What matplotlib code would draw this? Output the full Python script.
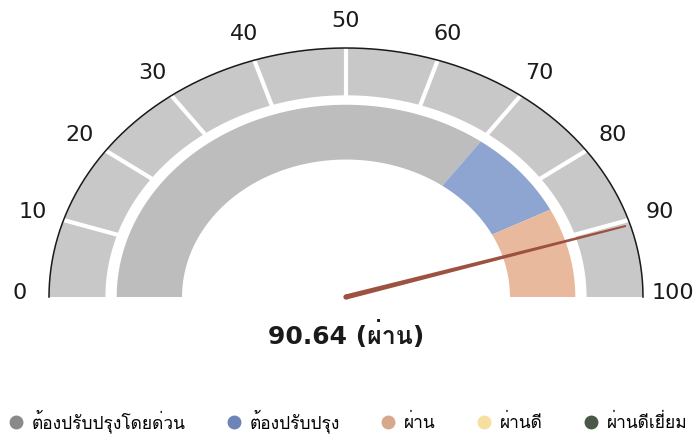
import numpy as np
import matplotlib
matplotlib.use("Agg")
import matplotlib.pyplot as plt
from matplotlib import font_manager
from matplotlib.ft2font import FT2Font

# data
value = 90.64
status = "ผ่าน"
tick_values = [0, 10, 20, 30, 40, 50, 60, 70, 80, 90, 100]
band_starts = [0, 70, 85]
band_ends = [70, 85, 100]
band_colors = ["#bdbdbd", "#8ea4d1", "#e9b99e"]
legend_labels = ["ต้องปรับปรุงโดยด่วน", "ต้องปรับปรุง", "ผ่าน", "ผ่านดี", "ผ่านดีเยี่ยม"]
legend_colors = ["#8a8a8a", "#6c84b8", "#d8a88c", "#f6df9f", "#4b5849"]


def thai_family():
    for f in font_manager.fontManager.ttflist:
        try:
            if 0x0E1C in FT2Font(f.fname).get_charmap():
                return f.name
        except Exception:
            pass
    return None


fam = thai_family()
thai = [fam, "DejaVu Sans"] if fam else ["DejaVu Sans"]
plt.rcParams["font.family"] = ["DejaVu Sans", fam] if fam else ["DejaVu Sans"]


def ang(v):
    return np.pi * (1 - np.asarray(v) / 100.0)


def ring(ax, v0, v1, r0, r1, color):
    t = np.linspace(ang(v0), ang(v1), 200)
    xs = np.concatenate([r1 * np.cos(t), r0 * np.cos(t[::-1])])
    ys = np.concatenate([r1 * np.sin(t), r0 * np.sin(t[::-1])])
    ax.fill(xs, ys, color=color, lw=0)


fig = plt.figure(figsize=(6.99, 4.41), dpi=100)
ax = fig.add_axes([0, 0, 1, 1])
# pixel scale: 297 px per unit horizontally, 249 px per unit vertically
sx, sy = 297.0, 249.0
ax.set_xlim(-346 / sx, (699 - 346) / sx)
ax.set_ylim(-144 / sy, 297 / sy)
ax.axis("off")

# outer band, split in tens
ring(ax, 0, 100, 0.81, 1.0, "#c8c8c8")
for v in tick_values[1:-1]:
    a = ang(v)
    ax.plot([0.80 * np.cos(a), 1.0 * np.cos(a)], [0.80 * np.sin(a), 1.0 * np.sin(a)],
            color="white", lw=3, solid_capstyle="butt")
t = np.linspace(0, np.pi, 300)
ax.plot(np.cos(t), np.sin(t), color="#1a1a1a", lw=1.1)

# inner band
for s, e, c in zip(band_starts, band_ends, band_colors):
    ring(ax, s, e, 0.552, 0.772, c)

# tick labels
for v in tick_values:
    a = ang(v)
    r = 1.11 if v not in (0, 100) else 1.10
    ax.text(r * np.cos(a), r * np.sin(a) + (0.018 if v in (0, 100) else 0), str(v),
            ha="center", va="center", fontsize=16, color="#1a1a1a")

# needle (tapered)
a = ang(value)
tip = 0.985
dxp, dyp = np.cos(a) * sx, np.sin(a) * sy
L = np.hypot(dxp, dyp)
nx, ny = -dyp / L, dxp / L
w0, w1 = 2.6, 1.0
px = [nx * w0, tip * dxp + nx * w1, tip * dxp - nx * w1, -nx * w0]
py = [ny * w0, tip * dyp + ny * w1, tip * dyp - ny * w1, -ny * w0]
ax.fill(np.array(px) / sx, np.array(py) / sy, color="#9d5140", lw=0)
cap = np.linspace(0, 2 * np.pi, 60)
ax.fill(w0 * np.cos(cap) / sx, w0 * np.sin(cap) / sy, color="#9d5140", lw=0)

# value text
ax.text(0, -38 / sy, f"{value:.2f} ({status})", ha="center", va="center",
        fontsize=18, fontweight="bold", color="#1a1a1a")

# legend
handles = [plt.Line2D([], [], marker="o", ls="", markersize=9, markerfacecolor=c,
                      markeredgecolor=c) for c in legend_colors]
fig.legend(handles, legend_labels, loc="center", bbox_to_anchor=(0.497, 1 - 421 / 441),
           ncol=5, frameon=False, handletextpad=0.4, columnspacing=2.3,
           handlelength=1.0, prop={"family": thai, "size": 12.5})

fig.savefig("out.png", dpi=100)
